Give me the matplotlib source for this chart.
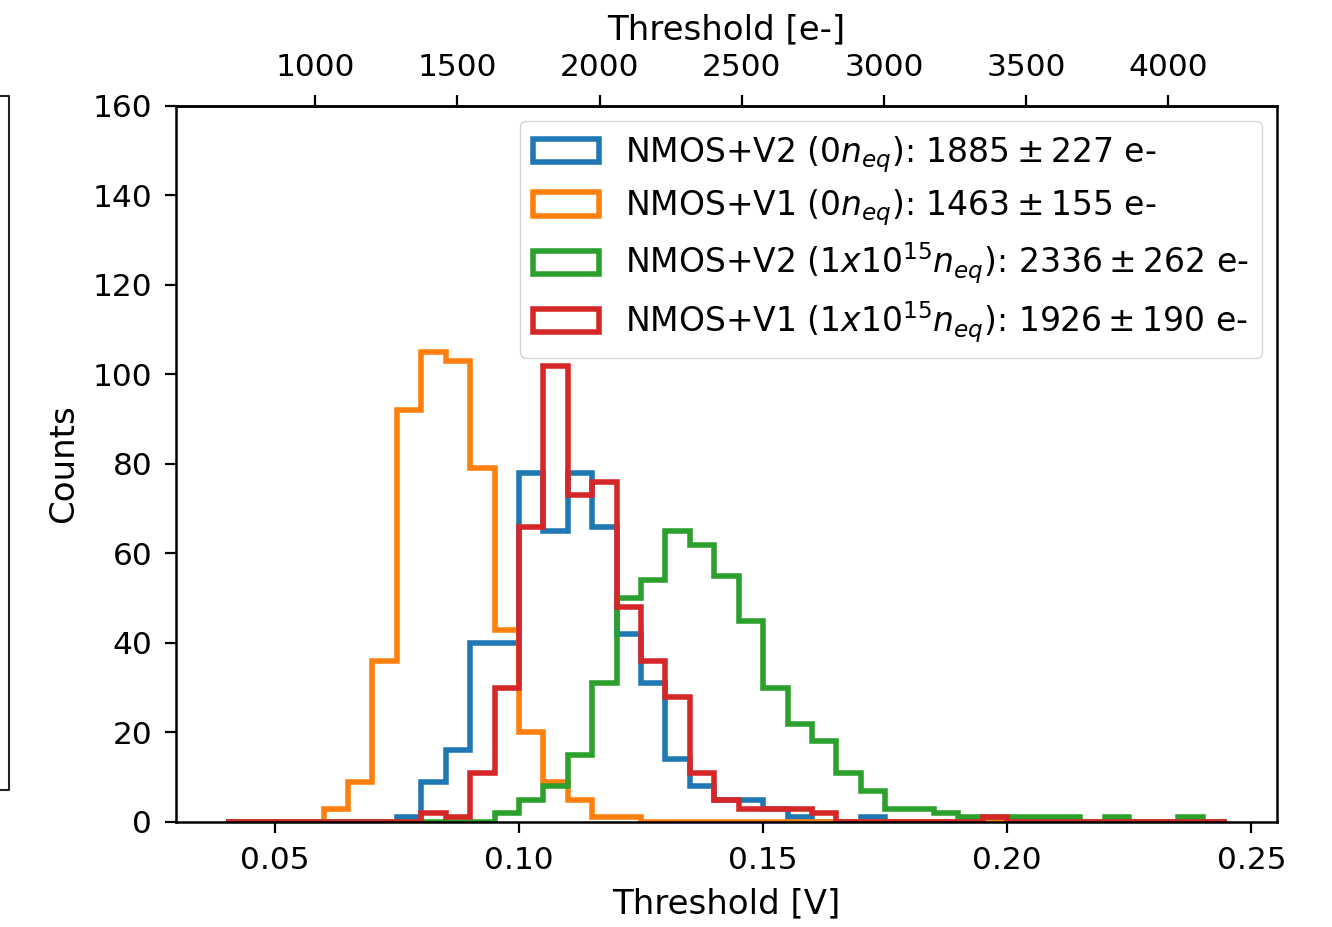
import numpy as np
import matplotlib
matplotlib.use('Agg')
import matplotlib.pyplot as plt
from matplotlib.lines import Line2D

# bin edges of the threshold histograms (V)
bin_edges = np.linspace(0.04, 0.245, 42)
bin_centers = 0.5 * (bin_edges[:-1] + bin_edges[1:])

# counts per bin
v2_0 = [0, 0, 0, 0, 0, 0, 0, 1, 9, 16, 40, 40, 78, 65, 78, 66, 42, 31, 14, 8, 5,
        5, 3, 1, 0, 0, 1, 0, 0, 0, 0, 0, 0, 0, 0, 0, 0, 0, 0, 0, 0]
v1_0 = [0, 0, 0, 0, 3, 9, 36, 92, 105, 103, 79, 43, 20, 9, 5, 1, 1, 0, 0, 0, 0,
        0, 0, 0, 0, 0, 0, 0, 0, 0, 0, 0, 0, 0, 0, 0, 0, 0, 0, 0, 0]
v2_irr = [0, 0, 0, 0, 0, 0, 0, 0, 0, 0, 0, 2, 5, 8, 15, 31, 50, 54, 65, 62, 55,
          45, 30, 22, 18, 11, 7, 3, 3, 2, 1, 1, 1, 1, 1, 0, 1, 0, 0, 1, 0]
v1_irr = [0, 0, 0, 0, 0, 0, 0, 0, 2, 1, 11, 30, 66, 102, 73, 76, 48, 36, 28, 11, 5,
          3, 3, 3, 2, 0, 0, 0, 0, 0, 0, 1, 0, 0, 0, 0, 0, 0, 0, 0, 0]

labels = [r'NMOS+V2 ($0n_{eq}$): $1885\pm227$ e-',
          r'NMOS+V1 ($0n_{eq}$): $1463\pm155$ e-',
          r'NMOS+V2 ($1x10^{15}n_{eq}$): $2336\pm262$ e-',
          r'NMOS+V1 ($1x10^{15}n_{eq}$): $1926\pm190$ e-']
colors = ['#1f77b4', '#ff7f0e', '#2ca02c', '#d62728']

# electrons per volt for the top axis
e_per_v = 17168.0

plt.rcParams['font.size'] = 22.5
plt.rcParams['axes.labelsize'] = 24.5
plt.rcParams['xtick.major.size'] = 8
plt.rcParams['ytick.major.size'] = 8
plt.rcParams['xtick.major.width'] = 1.6
plt.rcParams['ytick.major.width'] = 1.6
plt.rcParams['xtick.major.pad'] = 9
plt.rcParams['ytick.major.pad'] = 9
plt.rcParams['axes.linewidth'] = 1.8

fig = plt.figure(figsize=(13.32, 9.27), dpi=100)
ax = fig.add_axes([0.1321, 0.1133, 0.8266, 0.7724])

for counts, lab, col in zip([v2_0, v1_0, v2_irr, v1_irr], labels, colors):
    ax.hist(bin_centers, bins=bin_edges, weights=counts, histtype='step',
            linewidth=4.0, color=col, label=lab)

ax.set_ylim(0, 160)
ax.set_xlabel('Threshold [V]', labelpad=9)
ax.set_ylabel('Counts', labelpad=9)
ax.set_xticks([0.05, 0.10, 0.15, 0.20, 0.25])

top = ax.secondary_xaxis('top', functions=(lambda v: v * e_per_v, lambda e: e / e_per_v))
top.set_xticks([1000, 1500, 2000, 2500, 3000, 3500, 4000])
top.set_xlabel('Threshold [e-]', labelpad=10)

ax.legend(loc='upper right', handlelength=2.0, labelspacing=0.38,
          handletextpad=0.8, borderaxespad=0.45, fontsize=23.8)

# edge of the neighbouring panel on the left
fig.add_artist(Line2D([0.0, 0.007, 0.007, 0.0], [1 - 96 / 927, 1 - 96 / 927, 1 - 790 / 927, 1 - 790 / 927],
                      color='#222222', linewidth=1.5))

fig.savefig('out.png', dpi=100)
